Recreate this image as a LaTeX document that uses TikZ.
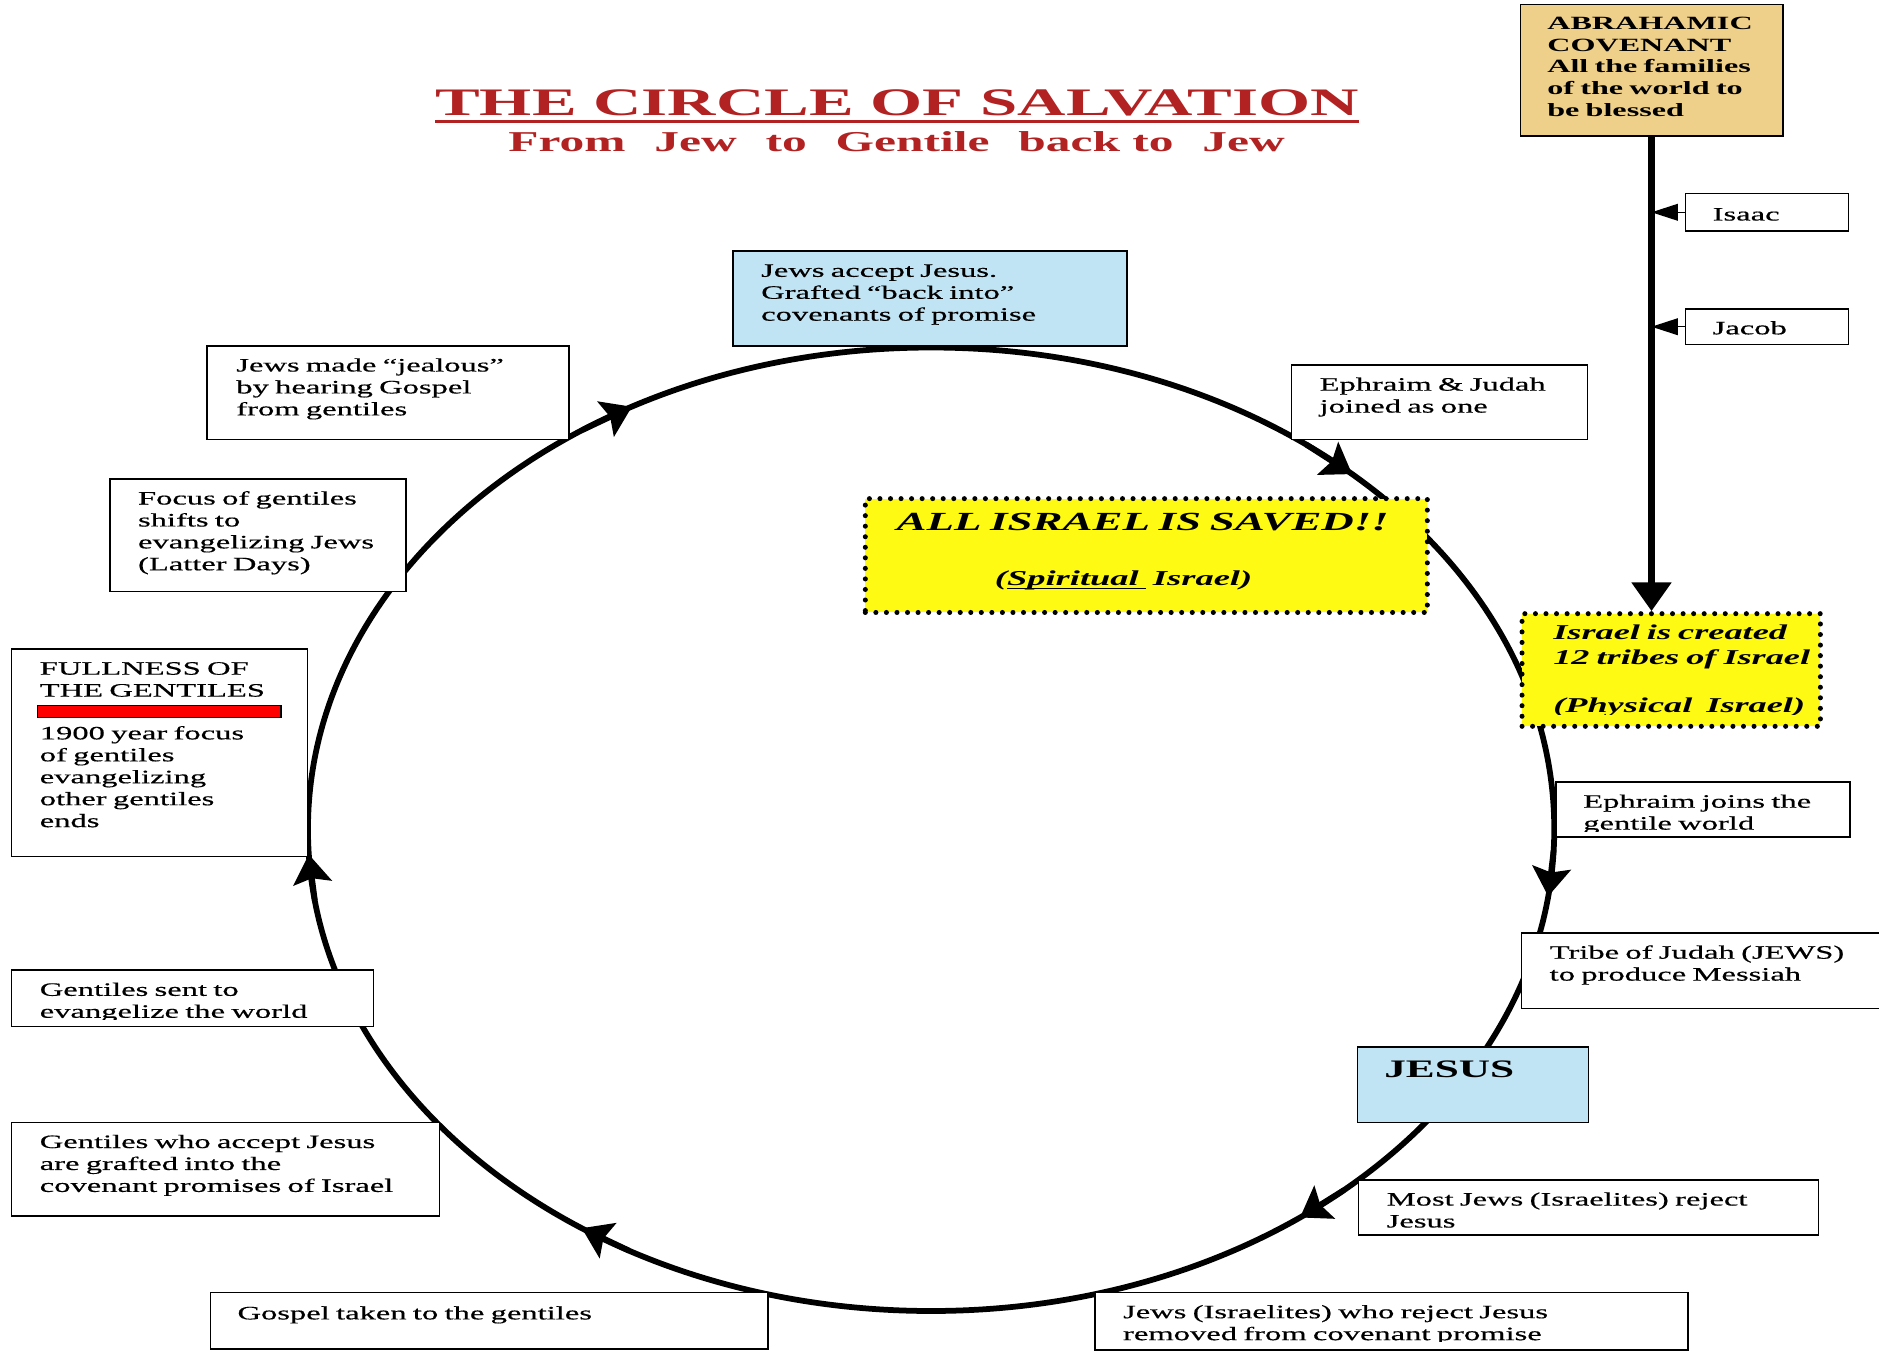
\documentclass[tikz,border=0pt]{standalone}
\usepackage{fontspec}
\setmainfont{Liberation Serif}[FakeStretch=1.72, UprightFeatures={FakeBold=0.5}]
\usetikzlibrary{arrows.meta}
\definecolor{titlered}{RGB}{178,34,34}
\definecolor{bluebox}{RGB}{192,228,244}
\definecolor{tanbox}{RGB}{238,208,138}
\definecolor{yellowbox}{RGB}{255,250,20}
\definecolor{barred}{RGB}{255,0,0}
\newcommand\myul[1]{\setbox0\hbox{#1}\rlap{\rule[-2.8pt]{\wd0}{1.4pt}}\box0}
\begin{document}
\begin{tikzpicture}[x=1pt,y=-1pt,
  box/.style={draw=black, line width=1.3pt, fill=white, inner sep=0pt, anchor=north west},
  dotbox/.style={draw=black, fill=yellowbox, line width=4.2pt, dash pattern=on 0pt off 8.8pt, line cap=round, inner sep=0pt, anchor=north west},
  sz/.style 2 args={minimum width=#1pt, minimum height=#2pt},
  txt/.style={anchor=base west, inner sep=0pt, align=left, text width=440pt, font=\fontsize{15.8}{18.3}\selectfont},
  btxt/.style={txt, font=\fontsize{15.6}{18.1}\selectfont\bfseries},
  ellarrow/.style={line width=4.8pt, -{Stealth[length=24pt,width=32pt,inset=4pt]}},
]
\useasboundingbox (0,0) rectangle (1568,1127);

% ---------- title ----------
\node[anchor=base west, inner sep=0pt, text=titlered, font=\fontsize{32.5}{36}\selectfont\bfseries] (title) at (363,96.5) {THE CIRCLE OF SALVATION};
\draw[titlered, line width=2.6pt] ([yshift=-5pt]title.base west) -- ([yshift=-5pt]title.base east);
\node[anchor=base west, inner sep=0pt, text=titlered, font=\fontsize{24}{28}\selectfont\bfseries] (subtitle) at (424,126.5)
  {\makebox[648pt][l]{From\hfill Jew\hfill to\hfill Gentile\hfill back to\hfill Jew}};

% ---------- circle ----------
\coordinate (O) at (777,692);
\draw[line width=4.8pt] (O) ellipse [x radius=520pt, y radius=402pt];
\path (O) ++(53:520pt and 402pt) coordinate (a1s);
\path (O) ++(47.5:520pt and 402pt) coordinate (a1e);
\path (O) ++(-2.5:520pt and 402pt) coordinate (a2s);
\path (O) ++(-8:520pt and 402pt) coordinate (a2e);
\path (O) ++(-48.5:520pt and 402pt) coordinate (a3s);
\path (O) ++(-53.7:520pt and 402pt) coordinate (a3e);
\path (O) ++(-119:520pt and 402pt) coordinate (a4s);
\path (O) ++(-124.1:520pt and 402pt) coordinate (a4e);
\path (O) ++(188.5:520pt and 402pt) coordinate (a5s);
\path (O) ++(183:520pt and 402pt) coordinate (a5e);
\path (O) ++(124:520pt and 402pt) coordinate (a6s);
\path (O) ++(118.7:520pt and 402pt) coordinate (a6e);
\draw[ellarrow] (a1s) -- (a1e);
\draw[ellarrow] (a2s) -- (a2e);
\draw[ellarrow] (a3s) -- (a3e);
\draw[ellarrow] (a4s) -- (a4e);
\draw[ellarrow] (a5s) -- (a5e);
\draw[ellarrow] (a6s) -- (a6e);

% ---------- boxes ----------
\node[box, fill=tanbox, sz={219}{110}] (abr) at (1268,3) {};
\node[box, sz={136}{31}] (isaac) at (1406,161) {};
\node[box, sz={136}{30}] (jacob) at (1406,257) {};
\node[dotbox, sz={249}{94}] (israel) at (1268,510) {};
\node[dotbox, sz={469}{95}] (saved) at (720,414) {};
\node[box, fill=bluebox, sz={329}{79}] (accept) at (611,209) {};
\node[box, sz={247}{62}] (ephjud) at (1077,304) {};
\node[box, sz={302}{78}] (jealous) at (172,288) {};
\node[box, sz={247}{94}] (focus) at (91,399) {};
\node[box, sz={247}{173}] (fullness) at (9,541) {};
\node[draw=black, line width=1pt, fill=barred, inner sep=0pt, anchor=north west, sz={203}{10}] (bar) at (31,588.5) {};
\node[box, sz={245}{46}] (ephjoin) at (1298,652) {};
\node[box, sz={310}{63}] (tribe) at (1269,778) {};
\node[box, fill=bluebox, sz={193}{63}] (jesus) at (1132,873) {};
\node[box, sz={384}{46}] (most) at (1133,984) {};
\node[box, sz={495}{48}] (reject) at (913,1078) {};
\node[box, sz={465}{47}] (gospel) at (175,1078) {};
\node[box, sz={357}{78}] (accgent) at (9,936) {};
\node[box, sz={302}{47}] (sent) at (9,809) {};

% ---------- texts ----------
\node[btxt] (abrt) at (1291,24.5) {ABRAHAMIC\\COVENANT\\All the families\\of the world to\\be blessed};
\node[txt] (isaact) at (1429,184) {Isaac};
\node[txt] (jacobt) at (1429,279) {Jacob};
\begin{scope}
\clip (1268,510) rectangle (1517,596.5);
\node[txt, font=\fontsize{17.6}{20.3}\selectfont\bfseries\itshape] (israelt) at (1296,534) {Israel is created\\12 tribes of Israel\\[20.3pt](Physical\ \ Israel)};
\end{scope}
\node[txt, font=\fontsize{21.8}{24}\selectfont\bfseries\itshape] (savedt) at (748,443) {ALL ISRAEL IS SAVED!!};
\node[txt, font=\fontsize{17.7}{20}\selectfont\bfseries\itshape] (spirit) at (830,489) {(\myul{Spiritual\ }\ Israel)};
\node[txt] (acceptt) at (635,231) {Jews accept Jesus.\\Grafted “back into”\\covenants of promise};
\node[txt] (ephjudt) at (1101,326) {Ephraim \& Judah\\joined as one};
\node[txt] (jealoust) at (197,310) {Jews made “jealous”\\by hearing Gospel\\from gentiles};
\node[txt] (focust) at (115,421) {Focus of gentiles\\shifts to\\evangelizing Jews\\(Latter Days)};
\node[txt] (fullt) at (33,563) {FULLNESS OF\\THE GENTILES};
\node[txt] (fullt2) at (33,617) {1900 year focus\\of gentiles\\evangelizing\\other gentiles\\ends};
\begin{scope}
\clip (1298,652) rectangle (1543,693.5);
\node[txt] (ephjoint) at (1321,674) {Ephraim joins the\\gentile world};
\end{scope}
\node[txt] (tribet) at (1293,800) {Tribe of Judah (JEWS)\\to produce Messiah};
\node[txt, font=\fontsize{21}{24}\selectfont\bfseries] (jesust) at (1155,899) {JESUS};
\node[txt] (mostt) at (1157,1006) {Most Jews (Israelites) reject\\Jesus};
\begin{scope}
\clip (913,1078) rectangle (1408,1119.5);
\node[txt] (rejectt) at (937,1100) {Jews (Israelites) who reject Jesus\\removed from covenant promise};
\end{scope}
\node[txt] (gospelt) at (198,1101) {Gospel taken to the gentiles};
\node[txt] (accgentt) at (33,958) {Gentiles who accept Jesus\\are grafted into the\\covenant promises of Israel};
\begin{scope}
\clip (9,809) rectangle (311,850.5);
\node[txt] (sentt) at (33,831) {Gentiles sent to\\evangelize the world};
\end{scope}

% ---------- lineage connectors ----------
\draw[line width=6.5pt, -{Triangle[length=24pt,width=32pt]}] (abr.south) -- (abr.south |- israel.north);
\draw[line width=1pt, -{Triangle[length=22pt,width=14pt]}] (isaac.west) -- (isaac.west -| abr.south);
\draw[line width=1pt, -{Triangle[length=22pt,width=14pt]}] (jacob.west) -- (jacob.west -| abr.south);
\end{tikzpicture}
\end{document}
